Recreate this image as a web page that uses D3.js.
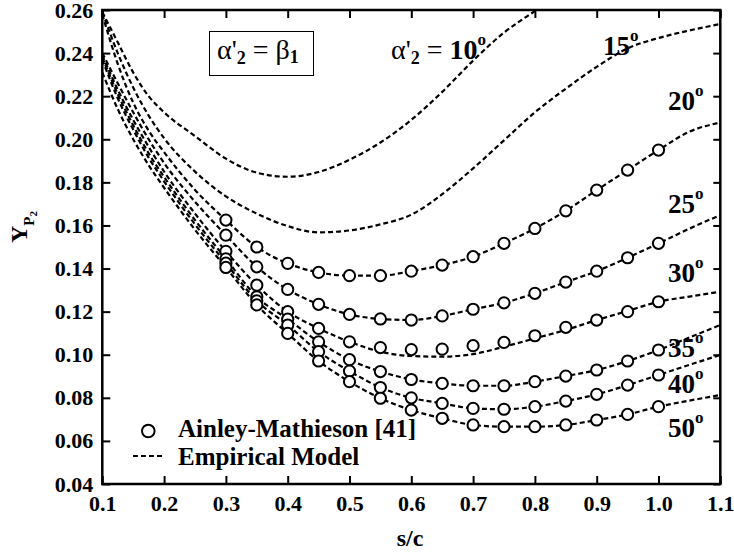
<!DOCTYPE html>
<html>
<head>
<meta charset="utf-8">
<script src="https://cdn.jsdelivr.net/npm/d3@7"></script>
<style>
body{margin:0;background:#fff;}
svg text{font-family:"Liberation Serif","Times New Roman",serif;fill:#000;}
</style>
</head>
<body>
<div id="chart"></div>
<script>
// s/c values where the empirical model curves were read
var modelSC = [0.1,0.125,0.15,0.175,0.2,0.25,0.3,0.35,0.4,0.45,0.5,0.55,0.6,0.65,0.7,0.75,0.8,0.85,0.9,0.95,1.0,1.05,1.1];

// empirical model, one array per exit angle (10 deg leaves the frame at the top)
var model10 = [0.259,0.245,0.231,0.220,0.2125,0.2015,0.191,0.1845,0.1826,0.1848,0.1905,0.1985,0.209,0.222,0.2365,0.2495,0.2595,0.269];
var model15 = [0.259,0.240,0.224,0.211,0.2005,0.185,0.1735,0.1655,0.1597,0.1568,0.1577,0.1605,0.165,0.1745,0.1865,0.1995,0.2125,0.2235,0.2336,0.2422,0.247,0.2505,0.2535];
var model20 = [0.258,0.235,0.217,0.204,0.194,0.1765,0.1625,0.150,0.1424,0.1382,0.1367,0.1367,0.1388,0.1416,0.1455,0.1517,0.1586,0.1668,0.1764,0.1857,0.195,0.2035,0.2078];
var model25 = [0.240,0.226,0.2125,0.200,0.189,0.171,0.1555,0.1408,0.1303,0.1234,0.1187,0.1166,0.1161,0.118,0.1211,0.1241,0.1285,0.1337,0.1388,0.145,0.1517,0.1585,0.1648];
var model30 = [0.239,0.223,0.209,0.1965,0.185,0.1655,0.148,0.1323,0.120,0.1122,0.106,0.1014,0.0994,0.0991,0.1003,0.1037,0.1076,0.1115,0.1161,0.1203,0.1246,0.127,0.1292];
var model35 = [0.238,0.221,0.2065,0.1935,0.1825,0.1625,0.1445,0.1269,0.1165,0.106,0.0977,0.0922,0.0885,0.0867,0.0856,0.0856,0.0875,0.0901,0.0929,0.0971,0.1022,0.108,0.1138];
var model40 = [0.237,0.219,0.2045,0.1915,0.1805,0.1605,0.1425,0.125,0.1138,0.1014,0.0924,0.0848,0.080,0.0774,0.0751,0.0747,0.0759,0.0785,0.0816,0.0859,0.0906,0.0953,0.0999];
var model50 = [0.231,0.214,0.200,0.188,0.1775,0.158,0.1405,0.1231,0.1099,0.0971,0.0875,0.0798,0.0743,0.0705,0.0674,0.0666,0.0666,0.0674,0.0697,0.0723,0.0759,0.0787,0.0813];

// Ainley-Mathieson [41] points
var expSC = [0.3,0.35,0.4,0.45,0.5,0.55,0.6,0.65,0.7,0.75,0.8,0.85,0.9,0.95,1.0];
var exp20 = [0.1625,0.150,0.1424,0.1382,0.1367,0.1367,0.1388,0.1416,0.1455,0.1517,0.1586,0.1668,0.1764,0.1857,0.195];
var exp25 = [0.1555,0.1408,0.1303,0.1234,0.1187,0.1166,0.1161,0.118,0.1211,0.1241,0.1285,0.1337,0.1388,0.145,0.1517];
var exp30 = [0.148,0.1323,0.120,0.1122,0.106,0.1033,0.1024,0.1026,0.1042,0.1057,0.1088,0.1127,0.1161,0.120,0.1246];
var exp35 = [0.1445,0.1269,0.1165,0.106,0.0977,0.0922,0.0885,0.0867,0.0856,0.0856,0.0875,0.0901,0.0929,0.0971,0.1022];
var exp40 = [0.1425,0.125,0.1138,0.1014,0.0924,0.0848,0.080,0.0774,0.0751,0.0747,0.0759,0.0785,0.0816,0.0859,0.0906];
var exp50 = [0.1405,0.1231,0.1099,0.0971,0.0875,0.0798,0.0743,0.0705,0.0674,0.0666,0.0666,0.0674,0.0697,0.0723,0.0759];

// curve labels at the right (label baseline given in Y units)
var curveLabels = ["15","20","25","30","35","40","50"];
var curveLabelY = [0.2391,0.2135,0.1656,0.1339,0.0991,0.0824,0.0618];
var xTicks = [0.1,0.2,0.3,0.4,0.5,0.6,0.7,0.8,0.9,1.0,1.1];
var yTicks = [0.04,0.06,0.08,0.10,0.12,0.14,0.16,0.18,0.20,0.22,0.24,0.26];

var width = 734, height = 553;
var svg = d3.select("#chart").append("svg")
    .attr("width", width).attr("height", height);

var x = d3.scaleLinear().domain([0.1, 1.1]).range([102.3, 720.3]);
var y = d3.scaleLinear().domain([0.04, 0.26]).range([484, 10]);

svg.append("clipPath").attr("id", "plotclip")
  .append("rect").attr("x", 102).attr("y", 10).attr("width", 619).attr("height", 474);

// axes, ticks point inward
var fmt1 = d3.format(".1f"), fmt2 = d3.format(".2f");
var gx = svg.append("g").attr("transform", "translate(0,484)")
    .call(d3.axisBottom(x).tickValues(xTicks).tickSize(-8).tickSizeOuter(0).tickPadding(11).tickFormat(fmt1));
var gxt = svg.append("g").attr("transform", "translate(0,10)")
    .call(d3.axisTop(x).tickValues(xTicks).tickSize(-8).tickSizeOuter(0).tickFormat(""));
var gy = svg.append("g").attr("transform", "translate(102.3,0)")
    .call(d3.axisLeft(y).tickValues(yTicks).tickSize(-8).tickSizeOuter(0).tickPadding(9).tickFormat(fmt2));
var gyr = svg.append("g").attr("transform", "translate(720.3,0)")
    .call(d3.axisRight(y).tickValues(yTicks).tickSize(-7).tickSizeOuter(0).tickFormat(""));

[gx, gxt, gy, gyr].forEach(function(g){
    g.select(".domain").remove();
    g.selectAll(".tick line").attr("stroke", "#000").attr("stroke-width", 2);
    g.selectAll(".tick text").attr("font-size", 22).attr("font-weight", "bold")
        .attr("font-family", "'Liberation Serif', serif").attr("fill", "#000");
});

// frame
svg.append("rect").attr("x", 102.3).attr("y", 10).attr("width", 618).attr("height", 474)
    .attr("fill", "none").attr("stroke", "#000").attr("stroke-width", 2.5);

// model curves
var models = [model10, model15, model20, model25, model30, model35, model40, model50];
var line = d3.line()
    .x(function(d){ return x(d[0]); })
    .y(function(d){ return y(d[1]); })
    .curve(d3.curveMonotoneX);

var plot = svg.append("g").attr("clip-path", "url(#plotclip)");
plot.selectAll(".model").data(models).enter().append("path")
    .attr("class", "model")
    .attr("d", function(vals){ return line(vals.map(function(v, i){ return [modelSC[i], v]; })); })
    .attr("fill", "none").attr("stroke", "#000")
    .attr("stroke-width", 2.2).attr("stroke-dasharray", "5,3");

// experimental points
var exps = [exp20, exp25, exp30, exp35, exp40, exp50];
exps.forEach(function(vals){
    plot.selectAll(null).data(vals).enter().append("circle")
        .attr("cx", function(d, i){ return x(expSC[i]); })
        .attr("cy", function(d){ return y(d); })
        .attr("r", 5.6)
        .attr("fill", "#fff").attr("stroke", "#000").attr("stroke-width", 2);
});

// curve labels
var lab = svg.selectAll(".clab").data(curveLabels).enter().append("text")
    .attr("class", "clab")
    .attr("x", function(d){ return d === "15" ? 603 : 668; })
    .attr("y", function(d, i){ return y(curveLabelY[i]); })
    .attr("font-size", 27).attr("font-weight", "bold");
lab.append("tspan").text(function(d){ return d; });
lab.append("tspan").attr("dy", -14).attr("font-size", 17).text("o");

// alpha label for the 10 deg curve
var a10 = svg.append("text").attr("x", 391).attr("y", 59).attr("font-size", 28);
a10.append("tspan").text("\u03b1'");
a10.append("tspan").attr("font-size", 18).attr("dy", 5).attr("font-weight", "bold").text("2");
a10.append("tspan").attr("dy", -5).text(" = ");
a10.append("tspan").attr("font-weight", "bold").text("10");
a10.append("tspan").attr("dy", -14).attr("font-size", 17).attr("font-weight", "bold").text("o");

// boxed condition
svg.append("rect").attr("x", 209.5).attr("y", 31.5).attr("width", 104).attr("height", 44)
    .attr("fill", "#fff").attr("stroke", "#000").attr("stroke-width", 1);
var bt = svg.append("text").attr("x", 217).attr("y", 59).attr("font-size", 28);
bt.append("tspan").text("\u03b1'");
bt.append("tspan").attr("font-size", 18).attr("dy", 5).attr("font-weight", "bold").text("2");
bt.append("tspan").attr("dy", -5).text(" = \u03b2");
bt.append("tspan").attr("font-size", 18).attr("dy", 4).attr("font-weight", "bold").text("1");

// legend
svg.append("circle").attr("cx", 148.3).attr("cy", 431).attr("r", 6.3)
    .attr("fill", "#fff").attr("stroke", "#000").attr("stroke-width", 2);
svg.append("text").attr("x", 178).attr("y", 437).attr("font-size", 25).attr("font-weight", "bold")
    .text("Ainley-Mathieson [41]");
svg.append("line").attr("x1", 133).attr("x2", 162).attr("y1", 456).attr("y2", 456)
    .attr("stroke", "#000").attr("stroke-width", 2.2).attr("stroke-dasharray", "5,3");
svg.append("text").attr("x", 178).attr("y", 465).attr("font-size", 25).attr("font-weight", "bold")
    .text("Empirical Model");

// axis titles
svg.append("text").attr("x", 410).attr("y", 546).attr("text-anchor", "middle")
    .attr("font-size", 24).attr("font-weight", "bold").text("s/c");
var yt = svg.append("text").attr("transform", "translate(27,243) rotate(-90)")
    .attr("font-size", 24).attr("font-weight", "bold");
yt.append("tspan").text("Y");
yt.append("tspan").attr("font-size", 15).attr("dy", 7).text("P");
yt.append("tspan").attr("font-size", 11).attr("dy", 3).text("2");
</script>
</body>
</html>
